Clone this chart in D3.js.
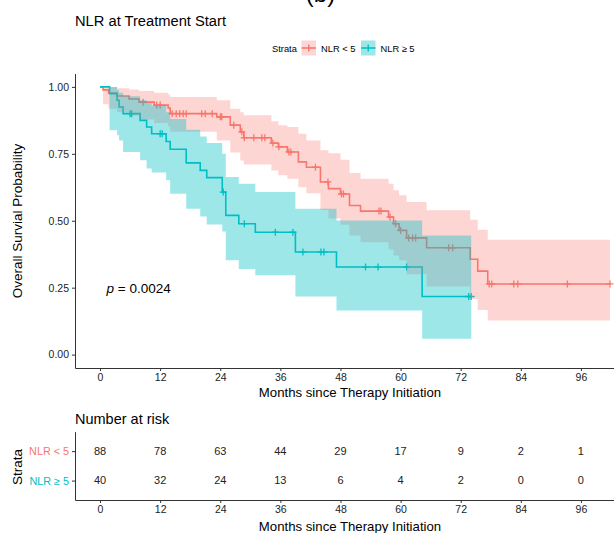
<!DOCTYPE html>
<html>
<head>
<meta charset="utf-8">
<script src="https://cdn.jsdelivr.net/npm/d3@7"></script>
<style>
body { margin: 0; background: #fff; }
svg { font-family: "Liberation Sans", Arial, sans-serif; }
</style>
</head>
<body>
<div id="plot"></div>
<script>
// values (months, survival probability)
var strata = ["NLR < 5", "NLR \u2265 5"];
var colors = ["#F8766D", "#00BFC4"];

var redTime  = [0, 0.6, 1.7, 3.4, 5.8, 7.8, 10.8, 13.6, 14.0, 23.3, 26.0, 28.0, 28.7, 34.2, 35.6, 37.4, 39.6, 41.2, 44.0, 45.6, 48.0, 49.8, 52.0, 57.6, 58.6, 59.7, 61.2, 65.2, 73.9, 75.4, 77.4];
var redSurv  = [1, .989, .977, .966, .955, .943, .932, .921, .90, .888, .857, .832, .81, .79, .776, .757, .72, .70, .645, .62, .60, .557, .536, .514, .489, .464, .436, .399, .356, .312, .264];
var redUpper = [1, 1, 1, .995, .99, .985, .978, .972, .962, .95, .918, .905, .894, .872, .857, .85, .825, .80, .763, .752, .728, .678, .657, .638, .614, .595, .57, .539, .504, .466, .429];
var redLower = [1, .935, .918, .905, .892, .878, .865, .852, .832, .80, .755, .725, .71, .688, .67, .657, .625, .603, .54, .508, .485, .445, .42, .393, .37, .352, .30, .254, .208, .167, .127];
var redCensor = [8.6, 11.3, 12.0, 14.4, 15.2, 15.9, 16.6, 17.2, 20.3, 21.0, 22.4, 24.0, 24.3, 26.7, 28.3, 28.8, 30.7, 32.3, 32.9, 34.5, 35.7, 37.7, 38.1, 43.0, 45.5, 48.2, 48.6, 55.7, 56.1, 57.9, 59.0, 60.0, 61.6, 62.4, 63.0, 69.6, 70.4, 77.7, 78.2, 82.6, 83.4, 93.3, 101.8];
var redEnd = 101.8;

var tealTime  = [0, 1.9, 3.4, 3.8, 4.6, 8.0, 9.3, 10.3, 13.2, 14.0, 17.2, 20.0, 21.3, 24.4, 25.1, 27.7, 31.0, 39.0, 47.2, 64.3];
var tealSurv  = [1, .975, .95, .925, .90, .875, .85, .825, .796, .767, .716, .688, .661, .607, .52, .489, .457, .383, .327, .217];
var tealUpper = [1, 1, .988, .978, .965, .95, .94, .93, .905, .88, .84, .815, .79, .75, .663, .638, .607, .545, .501, .445];
var tealLower = [1, .838, .819, .80, .757, .726, .695, .68, .651, .601, .545, .516, .486, .46, .352, .32, .296, .217, .165, .059];
var tealCensor = [6.0, 6.3, 12.0, 12.4, 24.6, 28.8, 35.0, 38.5, 40.5, 44.1, 44.7, 53.0, 55.5, 61.2, 73.6, 74.1];
var tealEnd = 74.1;

var xTicks = [0, 12, 24, 36, 48, 60, 72, 84, 96];
var yTicks = [0, 0.25, 0.5, 0.75, 1];
var riskRed  = [88, 78, 63, 44, 29, 17, 9, 2, 1];
var riskTeal = [40, 32, 24, 13, 6, 4, 2, 0, 0];
var pValue = "0.0024";

var width = 614;
var height = 533;

var svg = d3.select("#plot").append("svg").attr("width", width).attr("height", height);

var xScale = d3.scaleLinear().domain([-5, 105]).range([75, 626]);
var yScale = d3.scaleLinear().domain([-0.05, 1.05]).range([368, 73.5]);

svg.append("defs").append("clipPath").attr("id", "clip")
    .append("rect").attr("x", 75).attr("y", 60).attr("width", 560).attr("height", 310);

function stepPoints(time, vals, end) {
    var pts = time.map(function(t, i) { return [t, vals[i]]; });
    pts.push([end, vals[vals.length - 1]]);
    return pts;
}

function survAt(time, surv, t) {
    var s = surv[0];
    for (var i = 0; i < time.length; i++) { if (time[i] <= t) s = surv[i]; }
    return s;
}

var line = d3.line()
    .x(function(d) { return xScale(d[0]); })
    .y(function(d) { return yScale(d[1]); })
    .curve(d3.curveStepAfter);

var area = d3.area()
    .x(function(d) { return xScale(d[0]); })
    .y0(function(d) { return yScale(d[1]); })
    .y1(function(d) { return yScale(d[2]); })
    .curve(d3.curveStepAfter);

var groups = [
    {time: redTime, surv: redSurv, up: redUpper, lo: redLower, cens: redCensor, end: redEnd, color: colors[0], alpha: 0.3},
    {time: tealTime, surv: tealSurv, up: tealUpper, lo: tealLower, cens: tealCensor, end: tealEnd, color: colors[1], alpha: 0.38}
];

var plotG = svg.append("g").attr("clip-path", "url(#clip)");

// curves and censor marks
groups.forEach(function(g) {
    plotG.append("path")
        .attr("d", line(stepPoints(g.time, g.surv, g.end)))
        .attr("fill", "none")
        .attr("stroke", g.color)
        .attr("stroke-width", 1.6);

    plotG.append("g")
        .selectAll("path")
        .data(g.cens)
        .enter()
        .append("path")
        .attr("d", function(t) {
            var cx = xScale(t), cy = yScale(survAt(g.time, g.surv, t));
            return "M" + (cx - 3.5) + "," + cy + "h7M" + cx + "," + (cy - 3.5) + "v7";
        })
        .attr("stroke", g.color)
        .attr("stroke-width", 1.3);
});

// confidence bands on top
groups.forEach(function(g) {
    var pts = g.time.map(function(t, i) { return [t, g.lo[i], g.up[i]]; });
    pts.push([g.end, g.lo[g.lo.length - 1], g.up[g.up.length - 1]]);
    plotG.append("path")
        .attr("d", area(pts))
        .attr("fill", g.color)
        .attr("fill-opacity", g.alpha);
});

// axes
var yAxis = svg.append("g")
    .attr("transform", "translate(75,0)")
    .call(d3.axisLeft(yScale).tickValues(yTicks).tickFormat(d3.format(".2f")).tickSize(3).tickSizeOuter(0).tickPadding(3));

var xAxis = svg.append("g")
    .attr("transform", "translate(0,368)")
    .call(d3.axisBottom(xScale).tickValues(xTicks).tickSize(3).tickSizeOuter(0).tickPadding(3));

[yAxis, xAxis].forEach(function(a) {
    a.selectAll("text").attr("font-size", "10.5px").attr("fill", "#222").attr("font-family", null);
    a.selectAll("line, path").attr("stroke", "#333");
});

svg.append("text")
    .attr("transform", "translate(22,221) rotate(-90)")
    .attr("text-anchor", "middle")
    .attr("font-size", "13.5px")
    .text("Overall Survial Probability");

svg.append("text")
    .attr("x", 350).attr("y", 397)
    .attr("text-anchor", "middle")
    .attr("font-size", "13.2px")
    .text("Months since Therapy Initiation");

var pText = svg.append("text")
    .attr("x", 106.5).attr("y", 292.5)
    .attr("font-size", "13.5px");
pText.append("tspan").attr("font-style", "italic").text("p");
pText.append("tspan").text(" = " + pValue);

// titles
svg.append("text")
    .attr("x", 320.5).attr("y", 2)
    .attr("text-anchor", "middle")
    .attr("font-size", "24px")
    .text("(b)");

svg.append("text")
    .attr("x", 75).attr("y", 26)
    .attr("font-size", "14.7px")
    .text("NLR at Treatment Start");

// legend
var legend = svg.append("g").attr("font-size", "9.3px");
legend.append("text").attr("x", 272).attr("y", 51.5).text("Strata");
var legendX = [301.5, 361];
var legendTextX = [321, 380.5];
strata.forEach(function(s, i) {
    var kx = legendX[i];
    legend.append("rect")
        .attr("x", kx).attr("y", 40.5).attr("width", 14.5).attr("height", 15)
        .attr("fill", colors[i]).attr("fill-opacity", groups[i].alpha);
    legend.append("path")
        .attr("d", "M" + kx + ",48h14.5M" + (kx + 7.25) + ",44.5v7")
        .attr("stroke", colors[i]).attr("stroke-width", 1.4);
    legend.append("text").attr("x", legendTextX[i]).attr("y", 51.5).text(s);
});

// risk table
svg.append("text")
    .attr("x", 75).attr("y", 423.5)
    .attr("font-size", "14.5px")
    .text("Number at risk");

var yRisk = d3.scalePoint().domain(strata).range([431.7, 500]).padding(0.66);

var riskYAxis = svg.append("g")
    .attr("transform", "translate(75,0)")
    .call(d3.axisLeft(yRisk).tickSize(3).tickSizeOuter(0).tickPadding(3));
riskYAxis.selectAll("text")
    .attr("font-size", "10.8px").attr("font-family", null)
    .attr("fill", function(d, i) { return colors[i]; });

var riskXAxis = svg.append("g")
    .attr("transform", "translate(0,500)")
    .call(d3.axisBottom(xScale).tickValues(xTicks).tickSize(3).tickSizeOuter(0).tickPadding(3));
riskXAxis.selectAll("text").attr("font-size", "10.5px").attr("fill", "#222").attr("font-family", null);
[riskYAxis, riskXAxis].forEach(function(a) { a.selectAll("line, path").attr("stroke", "#333"); });

[riskRed, riskTeal].forEach(function(counts, r) {
    svg.append("g")
        .selectAll("text")
        .data(counts)
        .enter()
        .append("text")
        .attr("x", function(d, i) { return xScale(xTicks[i]); })
        .attr("y", yRisk(strata[r]))
        .attr("dy", "0.35em")
        .attr("text-anchor", "middle")
        .attr("font-size", "11px")
        .attr("fill", "#222")
        .text(function(d) { return d; });
});

svg.append("text")
    .attr("transform", "translate(22,467) rotate(-90)")
    .attr("text-anchor", "middle")
    .attr("font-size", "13.5px")
    .text("Strata");

svg.append("text")
    .attr("x", 350).attr("y", 530.5)
    .attr("text-anchor", "middle")
    .attr("font-size", "13.2px")
    .text("Months since Therapy Initiation");
</script>
</body>
</html>
